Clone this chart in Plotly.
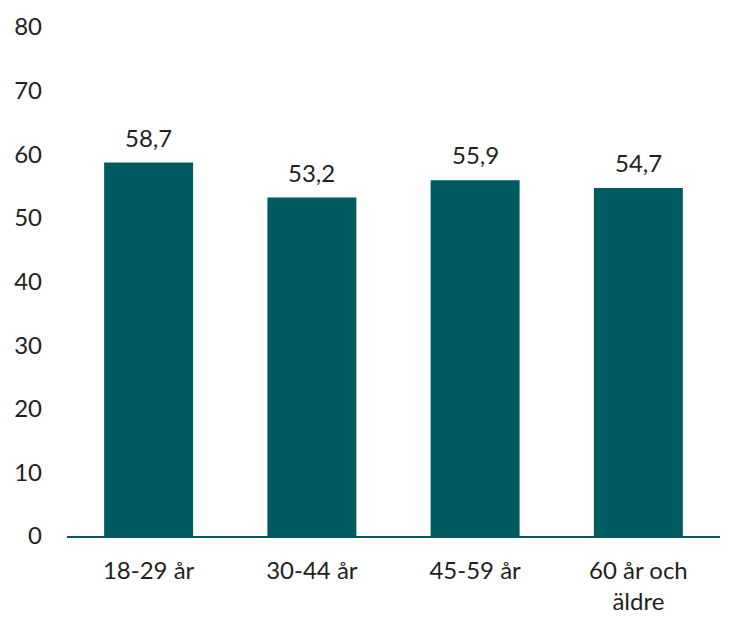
import plotly.graph_objects as go

categories = ["18-29 år", "30-44 år", "45-59 år", "60 år och<br>äldre"]
values = [58.7, 53.2, 55.9, 54.7]
y_ticks = [0, 10, 20, 30, 40, 50, 60, 70, 80]

bar_color = "#005A62"
text_color = "#231F20"
font_family = "Lato, 'Open Sans', sans-serif"
fs = 24

fig = go.Figure()
fig.add_trace(go.Bar(
    x=categories,
    y=values,
    marker=dict(color=bar_color, line=dict(width=0)),
    hoverinfo="skip",
))

for c, v in zip(categories, values):
    fig.add_annotation(
        x=c, y=v, text=f"{v:.1f}".replace(".", ","),
        showarrow=False, yanchor="bottom", yshift=9,
        font=dict(size=fs, color=text_color, family=font_family),
    )

fig.update_layout(
    width=730, height=616,
    margin=dict(l=59, r=18, t=19, b=88, autoexpand=False),
    paper_bgcolor="white", plot_bgcolor="white",
    bargap=0.455,
    showlegend=False,
    font=dict(family=font_family, size=fs, color=text_color),
    separators=", ",
)
fig.update_yaxes(
    range=[0, 80], tickvals=y_ticks, showgrid=False, zeroline=False,
    showline=False, ticks="", ticklabelstandoff=24, automargin=False,
    tickfont=dict(size=fs, color=text_color),
)
fig.update_xaxes(
    showline=True, linecolor=bar_color, linewidth=2, ticks="",
    showgrid=False, ticklabelstandoff=12, automargin=False,
    tickfont=dict(size=fs, color=text_color),
)

fig.write_html("out.html")
